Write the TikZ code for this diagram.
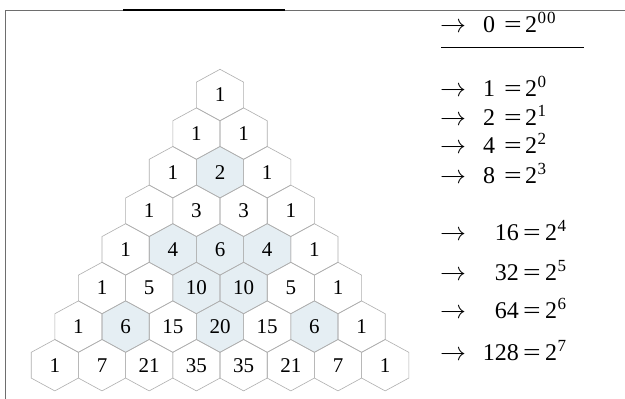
\documentclass[tikz,border=0pt]{standalone}
\usepackage{graphicx}
\usepackage{fontspec}
\setmainfont{Liberation Serif}
\definecolor{hexfill}{RGB}{229,238,243}
\definecolor{hexline}{RGB}{175,175,175}
\definecolor{framegray}{RGB}{110,110,110}
\newcommand\pwr[2]{#1\kern0.5pt\raisebox{0.36em}{\fontsize{17}{17}\selectfont #2}}
\newcommand\wideeq{\scalebox{1.3}[1]{=}}
\begin{document}
\begin{tikzpicture}[x=1pt,y=-1pt,
  hexedge/.style={draw=hexline,line width=0.6pt},
  hexshade/.style={fill=hexfill},
  hexnum/.style={font=\fontsize{21}{21}\selectfont,inner sep=0pt},
  eqtext/.style={font=\fontsize{24}{24}\selectfont,inner sep=0pt,anchor=base},
  eqarrow/.style={font=\fontsize{20}{20}\selectfont,inner sep=0pt,anchor=base west},
  frameline/.style={draw=framegray,line width=0.9pt}]
\useasboundingbox (0,0) rectangle (625,399);
\fill[white] (0,0) rectangle (625,399);
\def\hw{23.6}
\def\hh{25.7}
% frame
\coordinate (fA) at (5,10);
\coordinate (fB) at (625,10);
\coordinate (fC) at (5,399);
\coordinate (fD) at (123,10);
\coordinate (fE) at (285,10);
\draw[frameline] (fC) -- (fA) -- (fB);
\draw[black,line width=1.1pt] (fD) -- (fE);
% shaded cells
\foreach \r/\k in {2/1,4/1,4/2,4/3,5/2,5/3,6/1,6/3,6/5}{
  \pgfmathsetmacro\cx{220+(\k-\r/2)*47.2}
  \pgfmathsetmacro\cy{95+\r*38.6}
  \fill[hexshade] ({\cx},{\cy-\hh}) -- ({\cx+\hw},{\cy-\hh/2}) -- ({\cx+\hw},{\cy+\hh/2})
    -- ({\cx},{\cy+\hh}) -- ({\cx-\hw},{\cy+\hh/2}) -- ({\cx-\hw},{\cy-\hh/2}) -- cycle;
}
% cells
\foreach \r/\vals in {0/{1},1/{1,1},2/{1,2,1},3/{1,3,3,1},4/{1,4,6,4,1},5/{1,5,10,10,5,1},6/{1,6,15,20,15,6,1},7/{1,7,21,35,35,21,7,1}}{
  \foreach \v [count=\k from 0] in \vals {
    \pgfmathsetmacro\cx{220+(\k-\r/2)*47.2}
    \pgfmathsetmacro\cy{95+\r*38.6}
    \draw[hexedge] ({\cx},{\cy-\hh}) -- ({\cx+\hw},{\cy-\hh/2}) -- ({\cx+\hw},{\cy+\hh/2})
      -- ({\cx},{\cy+\hh}) -- ({\cx-\hw},{\cy+\hh/2}) -- ({\cx-\hw},{\cy-\hh/2}) -- cycle;
    \node[hexnum] (h-\r-\k) at (\cx,\cy) {\v};
  }
}
% equations
\node[eqarrow] (a0) at (440,32) {\scalebox{1.25}{$\rightarrow$}};
\node[eqtext] (n0) at (489,32) {0};
\node[eqtext] (e0) at (513,32) {\wideeq};
\node[eqtext,anchor=base west] (p0) at (525,32) {\pwr{2}{0\kern1pt0}};
\coordinate (ulA) at (441,47);
\coordinate (ulB) at (584,47);
\draw[black,line width=0.8pt] (ulA) -- (ulB);
\foreach \n/\p/\y in {1/0/96,2/1/125,4/2/153,8/3/183}{
  \node[eqarrow] (a\n) at (440,\y) {\scalebox{1.25}{$\rightarrow$}};
  \node[eqtext] (n\n) at (489,\y) {\n};
  \node[eqtext] (e\n) at (513,\y) {\wideeq};
  \node[eqtext,anchor=base west] (p\n) at (525,\y) {\pwr{2}{\p}};
}
\foreach \n/\p/\y in {16/4/240,32/5/280,64/6/318,128/7/360}{
  \node[eqarrow] (a\n) at (440,\y) {\scalebox{1.25}{$\rightarrow$}};
  \node[eqtext,anchor=base east] (n\n) at (519,\y) {\n};
  \node[eqtext] (e\n) at (532,\y) {\wideeq};
  \node[eqtext,anchor=base west] (p\n) at (545,\y) {\pwr{2}{\p}};
}
\end{tikzpicture}
\end{document}
